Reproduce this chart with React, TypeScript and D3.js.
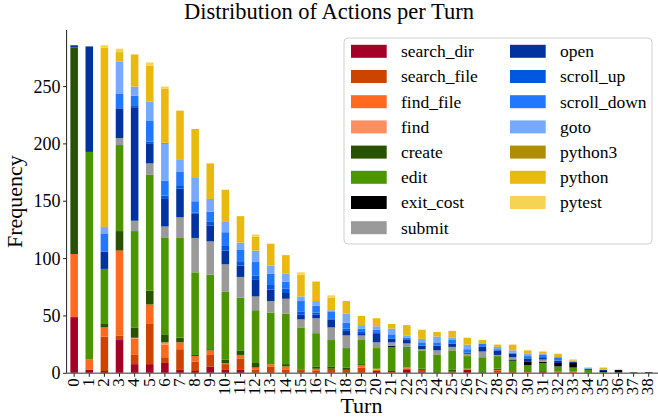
import React from 'react'
import * as d3 from 'd3'

const turns = ['0','1','2','3','4','5','6','7','8','9','10','11','12','13','14','15','16','17','18','19','20','21','22','23','24','25','26','27','28','29','30','31','32','33','34','35','36','37','38']

const actions = ['search_dir','search_file','find_file','find','create','edit','exit_cost','submit','open','scroll_up','scroll_down','goto','python3','python','pytest']

const actionColors = ['#a50026','#cc4400','#ff6a20','#ff8f5e','#275200','#4b9600','#000000','#9a9a9a','#0033a0','#0057e0','#2277ff','#76a9ff','#b08c08','#e9b90f','#f5d355']

// counts per turn, one array per action
const searchDir =  [49,3,2,29,8,8,9,3,2,6,3,3,0,0,0,0,0,0,0,0,2,0,3,1,0,0,3,0,0,0,0,1,0,0,0,0,0,0,0]
const searchFile = [0,0,30,4,8,35,5,18,8,10,5,10,3,6,3,3,2,4,3,5,0,1,1,2,0,2,0,0,2,1,0,1,0,0,0,0,0,0,0]
const findFile =   [55,9,8,74,14,17,11,6,5,4,1,3,2,2,3,0,2,0,0,2,1,0,1,0,0,0,1,0,1,0,1,0,2,2,0,0,0,0,0]
const find =       [0,0,0,0,1,0,2,0,0,0,0,0,0,0,0,0,0,0,0,0,1,0,0,0,0,0,0,0,0,0,0,0,0,0,0,0,0,0,0]
const create =     [180,0,3,17,9,12,7,4,1,1,3,4,4,0,2,0,2,2,2,1,0,1,0,1,1,1,0,1,1,0,0,0,0,0,0,0,1,1,0]
const edit =       [0,181,48,75,84,101,84,87,72,65,59,46,46,45,44,37,29,23,17,21,18,21,18,16,15,17,11,13,11,10,6,7,4,3,3,1,0,0,0]
const exitCost =   [0,0,0,0,0,0,0,0,0,0,0,0,0,0,0,0,0,0,0,0,0,1,0,0,0,0,0,0,0,1,3,1,3,4,0,1,2,0,1]
const submit =     [0,0,0,6,9,10,10,18,30,29,24,18,12,10,13,7,13,11,11,4,5,3,3,1,4,3,2,5,1,2,0,2,0,0,0,0,0,0,0]
const open =       [2,92,15,26,99,17,24,25,21,14,12,10,15,10,5,4,3,7,4,2,8,3,3,3,4,3,1,4,4,3,3,2,2,1,1,1,0,0,0]
const scrollUp =   [0,0,0,0,1,2,3,3,1,3,4,3,3,4,4,3,2,1,2,1,0,0,0,0,0,0,0,0,0,0,0,0,0,0,0,0,0,0,0]
const scrollDown = [0,0,16,13,9,18,13,12,10,9,12,11,12,10,6,9,6,6,5,3,3,4,2,3,3,3,3,3,1,1,2,2,3,0,0,0,0,0,0]
const goto =       [0,0,5,28,8,17,32,10,21,11,9,6,10,7,7,4,4,1,8,3,3,5,2,3,5,2,4,0,2,2,2,1,0,1,1,0,0,0,0]
const python3 =    [0,0,1,0,0,0,1,0,0,0,0,0,0,0,0,0,0,0,0,0,0,0,0,0,0,0,0,0,0,0,0,0,0,0,0,0,0,0,0]
const python =     [0,0,156,8,28,31,47,43,42,31,28,23,12,19,16,19,17,11,11,8,7,4,9,8,4,6,6,3,2,5,3,2,3,1,0,2,0,0,0]
const pytest =     [0,0,2,3,0,3,2,0,0,0,0,0,2,0,0,2,0,2,0,0,0,0,0,0,0,0,0,0,0,0,0,0,0,0,0,0,0,0,0]

const series = [searchDir,searchFile,findFile,find,create,edit,exitCost,submit,open,scrollUp,scrollDown,goto,python3,python,pytest]
const yTicks = [0,50,100,150,200,250]

const W = 658
const H = 417
const left = 66.6
const right = left + 39 * 15.12
const top = 30
const bottom = 373.3
const font = '"Liberation Serif", "Times New Roman", serif'

export default function App() {
  const rows = turns.map((t, i) => {
    const r: any = { turn: t }
    actions.forEach((a, j) => { r[a] = series[j][i] })
    return r
  })
  const stacked = d3.stack().keys(actions)(rows)

  const x = d3.scaleBand().domain(turns).range([left, right]).paddingInner(0.5).paddingOuter(0.25)
  const y = d3.scaleLinear().domain([0, 299.3]).range([bottom, top])

  const legX = 344, legY = 38, rowH = 25.2

  return (
    <svg width={W} height={H} style={{ position: 'absolute', left: 0, top: 0, background: '#fff' }} fontFamily={font}>
      {stacked.map((layer, j) => (
        <g key={actions[j]} fill={actionColors[j]}>
          {layer.map((d, i) => d[1] - d[0] > 0 ? (
            <rect key={i} x={x(turns[i])} width={x.bandwidth()} y={y(d[1])} height={y(d[0]) - y(d[1])} />
          ) : null)}
        </g>
      ))}

      {/* axes */}
      <line x1={left} x2={left} y1={top} y2={bottom} stroke="#222" strokeWidth={1} />
      <line x1={left} x2={W} y1={bottom} y2={bottom} stroke="#777" strokeWidth={1.5} />
      {yTicks.map((t) => (
        <g key={t}>
          <line x1={left - 3.5} x2={left} y1={y(t)} y2={y(t)} stroke="#222" />
          <text x={left - 6} y={y(t)} dy="0.34em" textAnchor="end" fontSize={18}>{t}</text>
        </g>
      ))}
      {turns.map((t) => {
        const cx = (x(t) as number) + x.bandwidth() / 2
        return (
          <g key={t}>
            <line x1={cx} x2={cx} y1={bottom} y2={bottom + 3.5} stroke="#222" />
            <text transform={`translate(${cx},${bottom + 5}) rotate(-90)`} dy="0.28em" textAnchor="end" fontSize={17}>{t}</text>
          </g>
        )
      })}

      <text x={329} y={19} textAnchor="middle" fontSize={22.5}>Distribution of Actions per Turn</text>
      <text x={(left + right) / 2} y={413} textAnchor="middle" fontSize={22}>Turn</text>
      <text transform={`translate(22,${(top + bottom) / 2}) rotate(-90)`} textAnchor="middle" fontSize={22}>Frequency</text>

      {/* legend */}
      <rect x={legX} y={legY} width={308} height={206} rx={4} fill="#fff" fillOpacity={0.8} stroke="#d0d0d0" />
      {actions.map((a, j) => {
        const col = j < 8 ? 0 : 1
        const row = j < 8 ? j : j - 8
        const sx = col === 0 ? 351 : 510
        const cy = 51.3 + row * rowH
        return (
          <g key={a}>
            <rect x={sx} y={cy - 6.5} width={35.7} height={13} fill={actionColors[j]} />
            <text x={sx + 50} y={cy} dy="0.34em" fontSize={17.5}>{a}</text>
          </g>
        )
      })}
    </svg>
  )
}
